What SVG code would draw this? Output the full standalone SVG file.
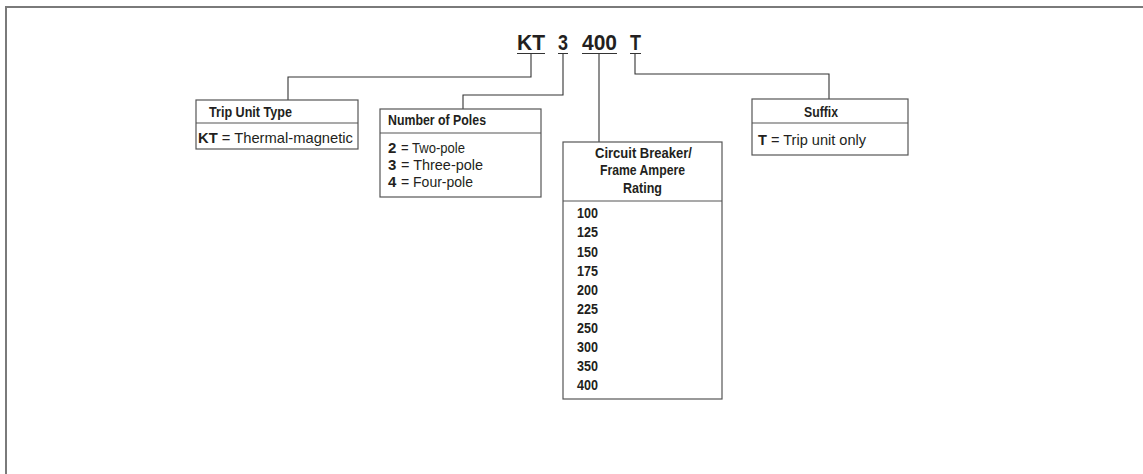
<svg xmlns="http://www.w3.org/2000/svg" width="1143" height="474" viewBox="0 0 1143 474">
<style>
text{font-family:"Liberation Sans Narrow","Liberation Sans",Arial,sans-serif;fill:#231f20}
.code{font-size:22px;font-weight:bold}
.t{font-size:14.5px;font-weight:bold}
.b{font-size:15px}
.bb{font-weight:bold}
.box{fill:#fff;stroke:#555;stroke-width:1.2}
.div{stroke:#555;stroke-width:1.2}
.c{fill:none;stroke:#333;stroke-width:1.1}
.frame{fill:none;stroke:#7a7a7a;stroke-width:2}
</style>
<rect width="1143" height="474" fill="#fff"/>
<path class="frame" d="M6,474 V7 H1143"/>
<g id="code">
<text class="code" x="517" y="50" textLength="28" lengthAdjust="spacingAndGlyphs">KT</text>
<text class="code" x="558" y="50" textLength="10" lengthAdjust="spacingAndGlyphs">3</text>
<text class="code" x="582" y="50" textLength="35" lengthAdjust="spacingAndGlyphs">400</text>
<text class="code" x="630" y="50" textLength="11" lengthAdjust="spacingAndGlyphs">T</text>
<path class="c" d="M517,53.5H545M558,53.5H568M582,53.5H617M630,53.5H641" stroke-width="1.6"/>
</g>
<g id="connectors">
<path class="c" d="M531,53.5V77H288V100"/>
<path class="c" d="M563,53.5V95H463V109"/>
<path class="c" d="M599,53.5V142"/>
<path class="c" d="M635,53.5V74H829V99"/>
</g>
<g id="trip-unit-type">
<rect class="box" x="196" y="100" width="162" height="49"/>
<line class="div" x1="196" y1="123" x2="358" y2="123"/>
<text class="t" x="209" y="117" textLength="83" lengthAdjust="spacingAndGlyphs">Trip Unit Type</text>
<text class="b" x="198" y="143" textLength="155" lengthAdjust="spacingAndGlyphs"><tspan class="bb">KT</tspan> = Thermal-magnetic</text>
</g>
<g id="number-of-poles">
<rect class="box" x="380" y="109" width="161" height="88"/>
<line class="div" x1="380" y1="133" x2="541" y2="133"/>
<text class="t" x="388" y="125" textLength="98" lengthAdjust="spacingAndGlyphs">Number of Poles</text>
<text class="b bb" x="388" y="153">2</text>
<text class="b" x="401" y="153" textLength="64" lengthAdjust="spacingAndGlyphs">= Two-pole</text>
<text class="b bb" x="388" y="170">3</text>
<text class="b" x="401" y="170" textLength="82" lengthAdjust="spacingAndGlyphs">= Three-pole</text>
<text class="b bb" x="388" y="187">4</text>
<text class="b" x="401" y="187" textLength="72" lengthAdjust="spacingAndGlyphs">= Four-pole</text>
</g>
<g id="ampere-rating">
<rect class="box" x="563" y="142" width="159" height="257"/>
<line class="div" x1="563" y1="201" x2="722" y2="201"/>
<text class="t" x="595" y="158" textLength="97" lengthAdjust="spacingAndGlyphs">Circuit Breaker/</text>
<text class="t" x="600" y="175" textLength="85" lengthAdjust="spacingAndGlyphs">Frame Ampere</text>
<text class="t" x="623" y="193" textLength="39" lengthAdjust="spacingAndGlyphs">Rating</text>
<text class="t" x="577" y="218" textLength="21" lengthAdjust="spacingAndGlyphs">100</text>
<text class="t" x="577" y="237" textLength="21" lengthAdjust="spacingAndGlyphs">125</text>
<text class="t" x="577" y="257" textLength="21" lengthAdjust="spacingAndGlyphs">150</text>
<text class="t" x="577" y="276" textLength="21" lengthAdjust="spacingAndGlyphs">175</text>
<text class="t" x="577" y="295" textLength="21" lengthAdjust="spacingAndGlyphs">200</text>
<text class="t" x="577" y="314" textLength="21" lengthAdjust="spacingAndGlyphs">225</text>
<text class="t" x="577" y="333" textLength="21" lengthAdjust="spacingAndGlyphs">250</text>
<text class="t" x="577" y="352" textLength="21" lengthAdjust="spacingAndGlyphs">300</text>
<text class="t" x="577" y="371" textLength="21" lengthAdjust="spacingAndGlyphs">350</text>
<text class="t" x="577" y="390" textLength="21" lengthAdjust="spacingAndGlyphs">400</text>
</g>
<g id="suffix">
<rect class="box" x="752" y="99" width="156" height="56"/>
<line class="div" x1="752" y1="123" x2="908" y2="123"/>
<text class="t" x="804" y="117" textLength="34" lengthAdjust="spacingAndGlyphs">Suffix</text>
<text class="b" x="758" y="145" textLength="108" lengthAdjust="spacingAndGlyphs"><tspan class="bb">T</tspan> = Trip unit only</text>
</g>
</svg>
